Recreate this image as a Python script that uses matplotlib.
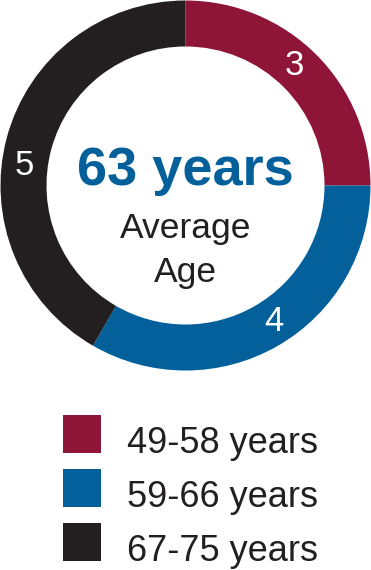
import matplotlib
matplotlib.use("Agg")
import matplotlib.pyplot as plt
from matplotlib.patches import Rectangle
import numpy as np

categories = ["49-58 years", "59-66 years", "67-75 years"]
counts = [3, 4, 5]
colors = ["#8E1538", "#03609A", "#231F20"]
center_title = "63 years"
center_sub = ["Average", "Age"]

W, H = 371, 570
fig = plt.figure(figsize=(W / 100, H / 100), dpi=100)
ax = fig.add_axes([0, 0, 1, 1])

cx, cy, R, ring = 185.5, H - 185.5, 185, 46
ax.pie(counts, colors=colors, startangle=90, counterclock=False,
       center=(cx, cy), radius=R, frame=True,
       wedgeprops=dict(width=ring, linewidth=0))
ax.set_xlim(0, W)
ax.set_ylim(0, H)
ax.set_aspect("equal")
ax.axis("off")

# value labels inside ring (angle offsets from wedge midpoints, clockwise from top)
offsets = [-3, -3, -8]
total = sum(counts)
start = 0
rl = R - ring / 2
for c, off in zip(counts, offsets):
    mid = (start + c / 2) / total * 360 + off
    a = np.deg2rad(90 - mid)
    ax.text(cx + rl * np.cos(a), cy + rl * np.sin(a), str(c), color="white",
            fontsize=25, ha="center", va="center", family="Liberation Sans")
    start += c

ax.text(cx, H - 185, center_title, color="#03609A", fontsize=39, fontweight="bold",
        ha="center", va="baseline", family="Liberation Sans")
for line, base in zip(center_sub, [238, 282]):
    ax.text(cx, H - base, line, color="#231F20", fontsize=25.5,
            ha="center", va="baseline", family="Liberation Sans")

sq = 38
for i, (lab, col) in enumerate(zip(categories, colors)):
    top = 415 + i * 54
    ax.add_patch(Rectangle((63, H - top - sq), sq, sq, facecolor=col, edgecolor="none"))
    ax.text(127, H - top - sq, lab, color="#231F20", fontsize=26,
            ha="left", va="baseline", family="Liberation Sans")

fig.savefig("out.png", dpi=100, facecolor="white")
